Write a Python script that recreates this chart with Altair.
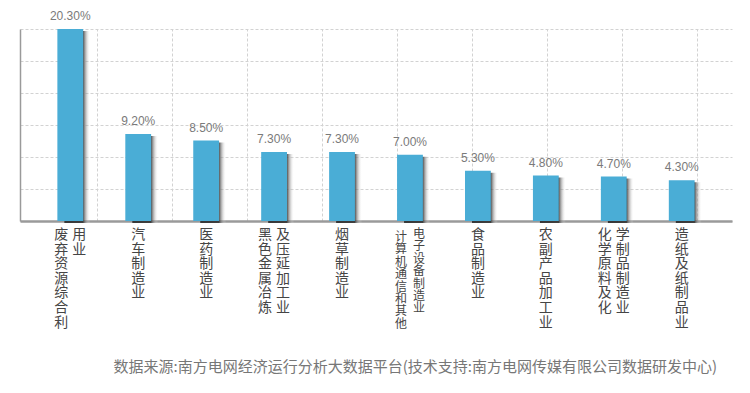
import altair as alt
import pandas as pd

categories = ["废弃资源综合利用业", "汽车制造业", "医药制造业", "黑色金属冶炼及压延加工业", "烟草制造业",
              "计算机通信和其他电子设备制造业", "食品制造业", "农副产品加工业", "化学原料及化学制品制造业", "造纸及纸制品业"]
values = [20.3, 9.2, 8.5, 7.3, 7.3, 7.0, 5.3, 4.8, 4.7, 4.3]
value_labels = ["20.30%", "9.20%", "8.50%", "7.30%", "7.30%", "7.00%", "5.30%", "4.80%", "4.70%", "4.30%"]
label_col1 = ["废弃资源综合利", "汽车制造业", "医药制造业", "黑色金属冶炼", "烟草制造业",
              "计算机通信和其他", "食品制造业", "农副产品加工业", "化学原料及化", "造纸及纸制品业"]
label_col2 = ["用业", "", "", "及压延加工业", "", "电子设备制造业", "", "", "学制品制造业", ""]
y_grid = [0, 20.3 / 6, 20.3 * 2 / 6, 20.3 * 3 / 6, 20.3 * 4 / 6, 20.3 * 5 / 6, 20.3]
x_grid = [1, 2, 3, 4, 5, 6, 7, 8, 9]
note = "数据来源:南方电网经济运行分析大数据平台(技术支持:南方电网传媒有限公司数据研发中心)"
compact = "计算机通信和其他电子设备制造业"

df = pd.DataFrame({
    "cat": categories,
    "value": values,
    "lab": value_labels,
    "c1": ["\n".join(s) for s in label_col1],
    "c2": ["\n".join(s) for s in label_col2],
})
grid_df = pd.DataFrame({"g": x_grid})
note_df = pd.DataFrame({"note": [note]})

W, H = 712, 192
BAR = "#4AADD6"
GRID = "#d2d2d2"

xband = alt.X("cat:N", sort=categories,
              scale=alt.Scale(type="band", domain=categories, paddingInner=0.62, paddingOuter=0.55),
              axis=None)
yq = alt.Y("value:Q", scale=alt.Scale(domain=[0, 20.3], nice=False, zero=True),
           axis=alt.Axis(values=y_grid, grid=True, gridDash=[3, 2], gridColor=GRID,
                         labels=False, ticks=False, domainColor="#9a9a9a", domainWidth=1.5,
                         title=None))

vgrid = alt.Chart(grid_df).mark_rule(opacity=0).encode(
    x=alt.X("g:Q", scale=alt.Scale(domain=[-0.03, 9.46], nice=False, zero=False),
            axis=alt.Axis(values=x_grid, grid=True, gridDash=[3, 2], gridColor=GRID,
                          labels=False, ticks=False, domain=True, domainColor="#9a9a9a",
                          domainWidth=2.5, title=None, orient="bottom"))
)

base = alt.Chart(df)

shadow = base.mark_bar(
    color=alt.Gradient(gradient="linear",
                       stops=[alt.GradientStop(color="#2a2a2a", offset=0),
                              alt.GradientStop(color="#333333", offset=0.72),
                              alt.GradientStop(color="rgba(255,255,255,0)", offset=1)],
                       x1=0, x2=1, y1=0, y2=0),
    xOffset=7, yOffset=2, opacity=0.9
).encode(x=xband, y=yq)

bars = base.mark_bar(color=BAR).encode(x=xband, y=yq)

vlabels = base.mark_text(baseline="alphabetic", dy=-9, fontSize=12,
                         font="Liberation Sans Narrow, Liberation Sans, Arial",
                         color="#7a7a7a").encode(x=xband, y=yq, text="lab:N")

lab_kw = dict(baseline="top", lineBreak="\n", fontSize=14, lineHeight=14.6,
              font="Noto Sans CJK SC", color="#454545")
single = base.transform_filter("datum.c2 == ''").mark_text(dy=7, **lab_kw).encode(
    x=xband, y=alt.value(H), text="c1:N")
left = base.transform_filter(f"datum.c2 != '' && datum.cat != '{compact}'").mark_text(
    dy=7, dx=-9, **lab_kw).encode(x=xband, y=alt.value(H), text="c1:N")
right = base.transform_filter(f"datum.c2 != '' && datum.cat != '{compact}'").mark_text(
    dy=7, dx=9, **lab_kw).encode(x=xband, y=alt.value(H), text="c2:N")

cmp_kw = dict(baseline="top", lineBreak="\n", fontSize=12, lineHeight=12.4,
              font="Noto Sans CJK SC", color="#454545")
cleft = base.transform_filter(f"datum.cat == '{compact}'").mark_text(
    dy=11, dx=-9, **cmp_kw).encode(x=xband, y=alt.value(H), text="c1:N")
cright = base.transform_filter(f"datum.cat == '{compact}'").mark_text(
    dy=8, dx=9, **cmp_kw).encode(x=xband, y=alt.value(H), text="c2:N")

note_text = alt.Chart(note_df).mark_text(
    align="right", baseline="middle", fontSize=15, color="#777777",
    font="Noto Sans CJK SC").encode(x=alt.value(W - 15), y=alt.value(H + 146), text="note:N")

chart = alt.layer(vgrid, shadow, bars, vlabels, single, left, right, cleft, cright, note_text).resolve_scale(
    x="independent"
).properties(
    width=W, height=H,
    autosize=alt.AutoSizeParams(type="none"),
    padding={"left": 12, "top": 21, "right": 10, "bottom": 162},
).configure_view(stroke=None)

chart.save("out.html", embed_options={"renderer": "svg", "actions": False})
